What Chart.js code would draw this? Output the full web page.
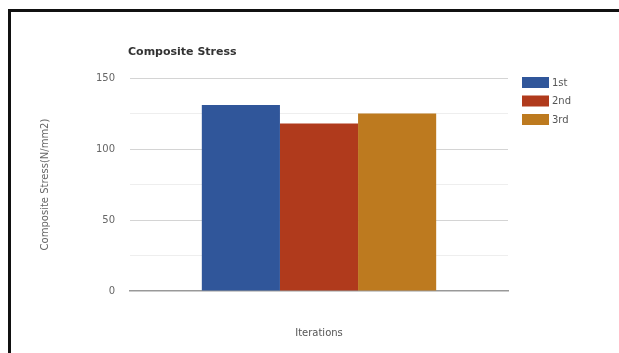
<!DOCTYPE html>
<html lang="en">

<head>
    <meta charset="UTF-8">
    <title>Composite Stress</title>
    <script src="https://cdn.jsdelivr.net/npm/chart.js"></script>
    <style>
        body {
            margin: 0;
            background-color: #fff;
            font-family: 'DejaVu Sans', sans-serif;
        }

        .wrap {
            position: relative;
            width: 619px;
            height: 353px;
            overflow: hidden;
        }

        .frame {
            position: absolute;
            left: 8px;
            top: 9px;
            width: 700px;
            height: 400px;
            border-top: 3px solid #111;
            border-left: 3px solid #111;
            pointer-events: none;
        }
    </style>
</head>

<body>
    <div class="wrap">
        <canvas id="stressChart" width="619" height="353"></canvas>
        <div class="frame"></div>
    </div>
    <script>
        // data
        const categories = [''];
        const seriesNames = ['1st', '2nd', '3rd'];
        const seriesValues = [[131], [118], [125]];
        const seriesColors = ['#30569a', '#b03a1c', '#bd7a1f'];
        const yTicks = [0, 50, 100, 150];

        const FONT = '"DejaVu Sans", sans-serif';

        // title + legend drawn at fixed spots like the original
        const decorations = {
            id: 'decorations',
            afterDraw(chart) {
                const ctx = chart.ctx;
                ctx.save();
                ctx.fillStyle = '#333';
                ctx.font = 'bold 11px ' + FONT;
                ctx.textBaseline = 'middle';
                ctx.fillText('Composite Stress', 128, 52);

                ctx.font = '10px ' + FONT;
                chart.data.datasets.forEach((ds, i) => {
                    const y = 77 + i * 18.5;
                    ctx.fillStyle = ds.backgroundColor;
                    ctx.fillRect(522, y, 27, 11);
                    ctx.fillStyle = '#555';
                    ctx.fillText(ds.label, 552, y + 6);
                });
                ctx.restore();
            }
        };

        new Chart(document.getElementById('stressChart'), {
            type: 'bar',
            data: {
                labels: categories,
                datasets: seriesNames.map((name, i) => ({
                    label: name,
                    data: seriesValues[i],
                    backgroundColor: seriesColors[i],
                    borderWidth: 0
                }))
            },
            options: {
                responsive: false,
                animation: false,
                categoryPercentage: 0.62,
                barPercentage: 1,
                layout: { padding: { top: 78, right: 111, left: 0, bottom: 0 } },
                plugins: {
                    legend: { display: false },
                    title: { display: false },
                    tooltip: { enabled: false }
                },
                scales: {
                    x: {
                        grid: { display: false },
                        border: { display: true, color: '#999', width: 1.5 },
                        ticks: { color: '#666', font: { size: 9, family: FONT } },
                        title: {
                            display: true,
                            text: 'Iterations',
                            color: '#555',
                            font: { size: 10, family: FONT },
                            padding: { top: 0, bottom: 14 }
                        },
                        afterFit(scale) { scale.height = 62; }
                    },
                    y: {
                        min: 0,
                        max: 150,
                        border: { display: false },
                        grid: {
                            drawTicks: false,
                            color(c) {
                                const v = c.tick.value;
                                if (v === 0) return 'rgba(0,0,0,0)';
                                return yTicks.includes(v) ? '#d4d4d4' : '#eeeeee';
                            }
                        },
                        ticks: {
                            stepSize: 25,
                            padding: 15,
                            color: '#666',
                            font: { size: 10, family: FONT },
                            callback: (v) => yTicks.includes(v) ? v : ''
                        },
                        title: {
                            display: true,
                            text: 'Composite Stress(N/mm2)',
                            color: '#666',
                            font: { size: 10, family: FONT },
                            padding: { top: 39, bottom: 0 }
                        },
                        afterFit(scale) { scale.width = 130; }
                    }
                }
            },
            plugins: [decorations]
        });
    </script>
</body>

</html>
